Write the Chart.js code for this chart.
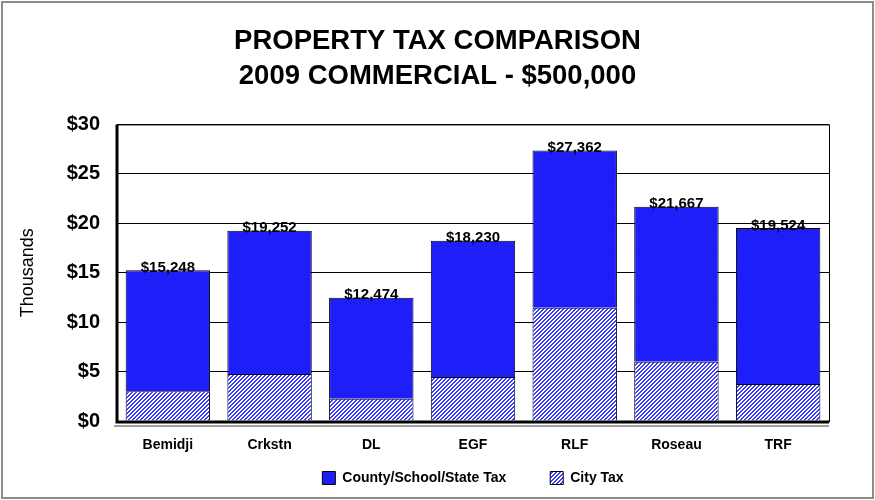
<!DOCTYPE html>
<html>
<head>
<meta charset="utf-8">
<script src="https://cdn.jsdelivr.net/npm/chart.js@4.4.0/dist/chart.umd.min.js"></script>
<style>
  html, body { margin: 0; padding: 0; background: #fff; }
  #wrap { width: 875px; height: 500px; }
</style>
</head>
<body>
<div id="wrap"><canvas id="TaxChart" width="875" height="500"></canvas></div>
<script>
// values in thousands of dollars
const cities = ['Bemidji', 'Crkstn', 'DL', 'EGF', 'RLF', 'Roseau', 'TRF'];
const totalTax = [15.248, 19.252, 12.474, 18.230, 27.362, 21.667, 19.524];
const cityTax = [3.0, 4.75, 2.25, 4.45, 11.45, 6.0, 3.75];
const countyTax = [12.248, 14.502, 10.224, 13.78, 15.912, 15.667, 15.774];
const yTicks = [0, 5, 10, 15, 20, 25, 30];

const FONT = '"Liberation Sans", Arial, sans-serif';

function makePattern(draw, size) {
  const c = document.createElement('canvas');
  c.width = size; c.height = size;
  draw(c.getContext('2d'));
  return c.getContext('2d').createPattern(c, 'repeat');
}

const countyFill = makePattern(g => {
  g.fillStyle = '#2020ff';
  g.fillRect(0, 0, 3, 3);
  g.fillStyle = '#1a1ae6';
  g.fillRect(0, 0, 1, 1);
  g.fillRect(2, 2, 1, 1);
}, 3);

const cityFill = makePattern(g => {
  g.fillStyle = '#ffffff';
  g.fillRect(0, 0, 4, 4);
  g.fillStyle = '#3c3cff';
  for (let y = 0; y < 4; y++) {
    g.fillRect((3 - y + 4) % 4, y, 1, 1);
    g.fillRect((4 - y + 4) % 4, y, 1, 1);
  }
}, 4);

const fmt = v => '$' + Math.round(v * 1000).toLocaleString('en-US');

const extras = {
  id: 'extras',
  afterLayout(chart) {
    // x axis is squeezed so the legend sits close; give its labels room to draw
    const s = chart.scales.x;
    s.height = 40;
    s.bottom = s.top + 40;
  },
  afterDatasetsDraw(chart) {
    const { ctx, chartArea: a } = chart;
    const meta = chart.getDatasetMeta(1);
    ctx.save();
    // plot frame
    ctx.strokeStyle = '#000';
    ctx.lineWidth = 1;
    ctx.strokeRect(a.left + 0.5, a.top + 0.5, a.right - a.left, a.bottom - a.top);
    ctx.lineWidth = 3;
    ctx.beginPath();
    ctx.moveTo(a.left, a.top);
    ctx.lineTo(a.left, a.bottom + 1);
    ctx.lineTo(a.right, a.bottom + 1);
    ctx.stroke();
    ctx.strokeStyle = '#a0a0a0';
    ctx.lineWidth = 2;
    ctx.beginPath();
    ctx.moveTo(a.left - 3, a.bottom + 5);
    ctx.lineTo(a.right, a.bottom + 5);
    ctx.stroke();
    // total labels
    ctx.fillStyle = '#000';
    ctx.font = 'bold 15px ' + FONT;
    ctx.textAlign = 'center';
    ctx.textBaseline = 'bottom';
    meta.data.forEach((bar, i) => {
      const y = chart.scales.y.getPixelForValue(totalTax[i]);
      ctx.fillText(fmt(totalTax[i]), bar.x, y + 5);
    });
    // outer border
    ctx.strokeStyle = '#8c8c8c';
    ctx.lineWidth = 2;
    ctx.strokeRect(2, 2, chart.width - 4, chart.height - 4);
    ctx.restore();
  }
};

const ctx = document.getElementById('TaxChart');
const myChart = new Chart(ctx, {
  type: 'bar',
  data: {
    labels: cities,
    datasets: [
      {
        label: 'City Tax',
        data: cityTax,
        backgroundColor: cityFill,
        borderColor: '#000',
        borderWidth: 1
      },
      {
        label: 'County/School/State Tax',
        data: countyTax,
        backgroundColor: countyFill,
        borderColor: '#000',
        borderWidth: 1
      }
    ]
  },
  options: {
    responsive: false,
    animation: false,
    layout: { padding: { left: 4, right: 4, top: 4, bottom: 5 } },
    datasets: { bar: { categoryPercentage: 1, barPercentage: 0.83 } },
    plugins: {
      title: {
        display: true,
        text: ['PROPERTY TAX COMPARISON', '2009 COMMERCIAL - $500,000'],
        color: '#000',
        font: { family: FONT, size: 27.5, weight: 'bold', lineHeight: 1.28 },
        padding: { top: 20, bottom: 30 }
      },
      legend: {
        position: 'bottom',
        fullSize: false,
        reverse: true,
        labels: {
          color: '#000',
          boxWidth: 13,
          boxHeight: 13,
          padding: 44,
          font: { family: FONT, size: 14, weight: 'bold' }
        }
      },
      tooltip: { enabled: false }
    },
    scales: {
      x: {
        stacked: true,
        grid: { display: false },
        border: { display: false },
        afterFit: s => { s.height = 6; },
        ticks: {
          color: '#000',
          padding: 8,
          font: { family: FONT, size: 14, weight: 'bold' }
        }
      },
      y: {
        stacked: true,
        min: 0,
        max: 30,
        afterBuildTicks: s => { s.ticks = yTicks.map(v => ({ value: v })); },
        afterFit: s => { s.width = 113; },
        grid: { color: '#000', lineWidth: 1, drawTicks: false },
        border: { display: false },
        ticks: {
          color: '#000',
          padding: 17,
          callback: v => '$' + v,
          font: { family: FONT, size: 20, weight: 'bold' }
        },
        title: {
          display: true,
          text: 'Thousands',
          color: '#000',
          padding: { top: 13, bottom: 0 },
          font: { family: FONT, size: 18 }
        }
      },
      yRight: {
        position: 'right',
        min: 0,
        max: 30,
        afterFit: s => { s.width = 42; },
        grid: { display: false },
        border: { display: false },
        ticks: { display: false }
      }
    }
  },
  plugins: [extras]
});
</script>
</body>
</html>
